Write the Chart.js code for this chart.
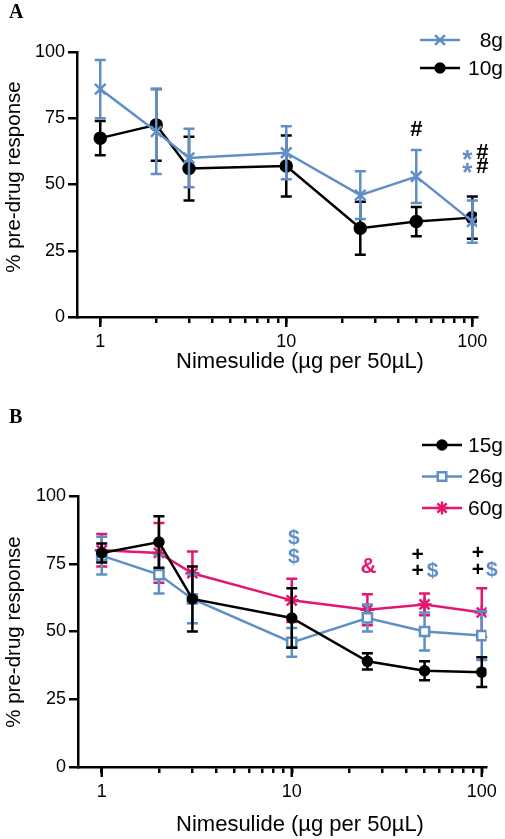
<!DOCTYPE html>
<html>
<head>
<meta charset="utf-8">
<script src="https://cdn.jsdelivr.net/npm/chart.js@4/dist/chart.umd.min.js"></script>
<style>
  body { margin: 0; background: #fff; }
  .panel { position: absolute; left: 0; width: 505px; }
  #boxA { top: 0; height: 420px; }
  #boxB { top: 420px; height: 419px; }
  .letter { position: absolute; font: bold 20px "Liberation Serif", "Times New Roman", serif; color: #000; }
</style>
</head>
<body>
<div class="panel" id="boxA"><canvas id="chartA" width="505" height="420" style="width:505px;height:420px"></canvas></div>
<div class="panel" id="boxB"><canvas id="chartB" width="505" height="419" style="width:505px;height:419px"></canvas></div>
<div class="letter" style="left:9px;top:0px">A</div>
<div class="letter" style="left:9px;top:405px">B</div>
<script>
// doses (µg per 50µL)
const doses = [1, 2, 3, 10, 25, 50, 100];
const xTicks = [1, 2, 3, 4, 5, 6, 7, 8, 9, 10, 20, 30, 40, 50, 60, 70, 80, 90, 100];
const yTicks = [0, 25, 50, 75, 100];

// panel A
const mean8g  = [86, 70, 60, 62, 46, 53, 36];
const sem8g   = [11, 16, 11, 10, 9, 10, 8];
const mean10g = [67.5, 72.5, 56, 57, 33.5, 36, 37.5];
const sem10g  = [6.5, 13.5, 12, 11.5, 10, 5.5, 8];

// panel B
const mean15g = [79, 83, 62, 55, 39, 35.5, 35];
const sem15g  = [3.5, 9.5, 12, 11, 3, 3.5, 5.5];
const mean26g = [78, 71, 62, 46, 55, 50, 48.5];
const sem26g  = [7, 7, 9, 5.3, 5, 7, 9];
const mean60g = [80, 79, 71.5, 61.5, 58, 60, 57];
const sem60g  = [6, 11, 8, 8, 5.7, 4, 9];

// significance marks: symbol, dose, level (% response), colour key
const marksA = [
  ['#', 50, 70.5, 'k', 0],
  ['*', 100, 61, 'b', -5], ['*', 100, 56, 'b', -5],
  ['#', 100, 62, 'k', 10], ['#', 100, 56.5, 'k', 10]
];
const marksB = [
  ['$', 10, 84.5, 'b', 2], ['$', 10, 77.5, 'b', 2],
  ['&', 25, 73.8, 'm', 1],
  ['+', 50, 78.2, 'k', -7], ['+', 50, 72.3, 'k', -7], ['$', 50, 72.3, 'b', 8],
  ['+', 100, 79, 'k', -4], ['+', 100, 72.7, 'k', -4], ['$', 100, 72.7, 'b', 10]
];

const BLUE = '#5f8fc6';
const MAG = '#e3176f';
const BLACK = '#000';
const colours = { k: BLACK, b: BLUE, m: MAG };
const FONT = '"Liberation Sans", Arial, sans-serif';
const markSize = { '*': 26, '+': 21, '#': 22, '$': 21, '&': 22 };

const pts = (means) => doses.map((d, i) => ({ x: d, y: means[i] }));

// error bars drawn right before each dataset so its own markers sit on top
const errorBars = {
  id: 'errorBars',
  beforeDatasetDraw(chart, args) {
    const ds = chart.data.datasets[args.index];
    if (!ds.errors) return;
    const { ctx, scales: { x, y } } = chart;
    ctx.save();
    ctx.strokeStyle = ds.borderColor;
    ctx.lineWidth = 2.5;
    ds.data.forEach((p, j) => {
      const px = x.getPixelForValue(p.x);
      const top = y.getPixelForValue(p.y + ds.errors[j]);
      const bot = y.getPixelForValue(p.y - ds.errors[j]);
      ctx.beginPath();
      ctx.moveTo(px, top); ctx.lineTo(px, bot);
      ctx.moveTo(px - 5.5, top); ctx.lineTo(px + 5.5, top);
      ctx.moveTo(px - 5.5, bot); ctx.lineTo(px + 5.5, bot);
      ctx.stroke();
    });
    ctx.restore();
  }
};

// longer tick marks on the decades, axis titles, legend, marks
const decorations = {
  id: 'decorations',
  afterDraw(chart, args, opts) {
    const { ctx, scales: { x, y } } = chart;
    const bottom = chart.chartArea.bottom;
    ctx.save();
    ctx.strokeStyle = BLACK;
    ctx.lineWidth = 2.5;
    [1, 10, 100].forEach(v => {
      const px = x.getPixelForValue(v);
      ctx.beginPath(); ctx.moveTo(px, bottom); ctx.lineTo(px, bottom + 10); ctx.stroke();
    });

    ctx.fillStyle = BLACK;
    ctx.textAlign = 'center';
    ctx.textBaseline = 'middle';
    ctx.font = '22px ' + FONT;
    ctx.fillText('Nimesulide (µg per 50µL)', opts.xTitle[0], opts.xTitle[1]);
    ctx.save();
    ctx.translate(opts.yTitle[0], opts.yTitle[1]);
    ctx.rotate(-Math.PI / 2);
    ctx.font = '20.5px ' + FONT;
    ctx.fillText('% pre-drug response', 0, 0);
    ctx.restore();

    // legend
    const [lx, ly, gap] = opts.legend;
    chart.data.datasets.forEach((ds, i) => {
      const yy = ly + i * gap;
      ctx.strokeStyle = ds.borderColor;
      ctx.lineWidth = 2.5;
      ctx.beginPath(); ctx.moveTo(lx, yy); ctx.lineTo(lx + 40, yy); ctx.stroke();
      ctx.fillStyle = ds.pointBackgroundColor;
      ctx.lineWidth = ds.pointBorderWidth;
      Chart.helpers.drawPoint(ctx, {
        pointStyle: ds.pointStyle, radius: ds.legendRadius, borderWidth: ds.pointBorderWidth, rotation: 0
      }, lx + 20, yy);
      ctx.fillStyle = BLACK;
      ctx.textAlign = 'right';
      ctx.font = '21px ' + FONT;
      ctx.fillText(ds.label, 503, yy + 1);
    });

    // significance symbols
    ctx.textAlign = 'center';
    opts.marks.forEach(([sym, dose, level, c, dx]) => {
      const size = markSize[sym];
      ctx.font = 'bold ' + size + 'px ' + FONT;
      ctx.fillStyle = colours[c];
      const shift = sym === '*' ? size * 0.22 : 0;
      ctx.fillText(sym, x.getPixelForValue(dose) + dx, y.getPixelForValue(level) + shift);
    });
    ctx.restore();
  }
};

function makeChart(id, datasets, pad, yWidth, extra) {
  return new Chart(document.getElementById(id), {
    type: 'line',
    data: { datasets },
    options: {
      responsive: false,
      animation: false,
      layout: { padding: pad },
      plugins: { legend: { display: false }, tooltip: { enabled: false }, decorations: extra },
      scales: {
        x: {
          type: 'logarithmic', min: 0.75, max: 106,
          afterBuildTicks: s => { s.ticks = xTicks.map(v => ({ value: v })); },
          afterFit: s => { s.height = 50; },
          grid: { drawOnChartArea: false, color: BLACK, lineWidth: 2.5, tickLength: 6 },
          border: { color: BLACK, width: 2.5 },
          ticks: {
            autoSkip: false, maxRotation: 0, padding: 8, color: BLACK,
            font: { family: FONT, size: 18 },
            callback: v => ([1, 10, 100].includes(v) ? String(v) : '')
          }
        },
        y: {
          min: 0, max: 100,
          afterBuildTicks: s => { s.ticks = yTicks.map(v => ({ value: v })); },
          afterFit: s => { s.width = yWidth; },
          grid: { drawOnChartArea: false, color: BLACK, lineWidth: 2.5, tickLength: 9 },
          border: { color: BLACK, width: 2.5 },
          ticks: { padding: 3, color: BLACK, font: { family: FONT, size: 18 } }
        }
      }
    },
    plugins: [errorBars, decorations]
  });
}

function series(label, means, errs, colour, style, radius, legendRadius, fill) {
  return {
    label, data: pts(means), errors: errs,
    borderColor: colour, borderWidth: 2.5, tension: 0,
    pointStyle: style, pointRadius: radius, pointHoverRadius: radius, legendRadius,
    pointBackgroundColor: fill || colour, pointBorderColor: colour, pointBorderWidth: 2.5
  };
}

makeChart('chartA', [
  series('8g', mean8g, sem8g, BLUE, 'crossRot', 7.5, 7),
  series('10g', mean10g, sem10g, BLACK, 'circle', 5.5, 4.5)
], { left: 0, right: 28, top: 52, bottom: 53 }, 77, {
  xTitle: [300, 362], yTitle: [14, 177], legend: [420, 40, 28], marks: marksA
});

makeChart('chartB', [
  series('15g', mean15g, sem15g, BLACK, 'circle', 4.5, 4.5),
  series('26g', mean26g, sem26g, BLUE, 'rect', 6.5, 6, '#fff'),
  series('60g', mean60g, sem60g, MAG, 'star', 7, 6.5)
], { left: 0, right: 18, top: 76, bottom: 22 }, 78, {
  xTitle: [300, 405], yTitle: [14, 212], legend: [422, 25, 31.5], marks: marksB
});
</script>
</body>
</html>
